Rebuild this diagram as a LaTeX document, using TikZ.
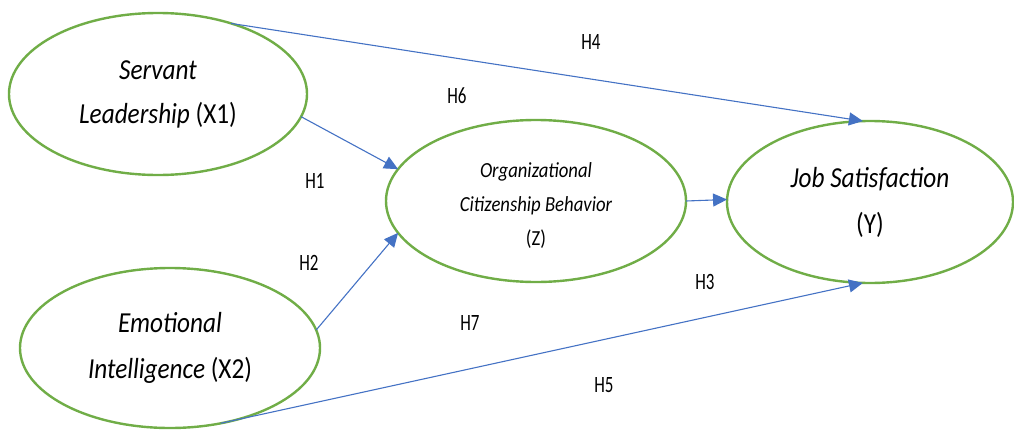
\documentclass[tikz,border=0pt]{standalone}
\usepackage{fontspec}
\setmainfont[FakeStretch=0.87]{Carlito}
\usetikzlibrary{shapes.geometric,arrows.meta}
\definecolor{ovalgreen}{HTML}{70AD47}
\definecolor{arrowblue}{HTML}{4472C4}
\tikzset{
  oval/.style={ellipse, draw=ovalgreen, line width=2.4pt, inner sep=0pt, outer sep=0pt, align=center},
  link/.style={draw=arrowblue, line width=1.1pt, -{Triangle[length=14pt,width=13pt]}},
  hlab/.style={inner sep=0pt, font=\fontsize{19.5}{19.5}\selectfont}
}
\newcommand{\hl}[1]{\scalebox{1}[1.2]{#1}}
\begin{document}
\begin{tikzpicture}[x=1pt,y=-1pt]
\useasboundingbox (0,0) rectangle (1014,431);
\node[oval, minimum width=298pt, minimum height=162pt, font=\fontsize{29}{44}\selectfont] (X1) at (158,94) {\itshape Servant\\\itshape Leadership \upshape(X1)};
\node[oval, minimum width=300pt, minimum height=160pt, font=\fontsize{29}{46}\selectfont] (X2) at (170,348) {\itshape Emotional\\\itshape Intelligence \upshape(X2)};
\node[oval, minimum width=300pt, minimum height=162pt] (Z) at (536,201) {};
\node[inner sep=0pt, align=center, font=\fontsize{21.5}{34}\selectfont] (Ztext) at (536,206) {\itshape Organizational\\\itshape Citizenship Behavior\\\upshape(Z)};
\node[oval, minimum width=286pt, minimum height=162pt, font=\fontsize{29}{46}\selectfont] (Y) at (870,202) {\itshape Job Satisfaction\\\upshape(Y)};
\draw[link] (X1.44.6) -- (Y.95);
\draw[link] (X1.-9) -- (Z.167.6);
\draw[link] (X2.7.8) -- (Z.193.7);
\draw[link] (Z.-0.5) -- (Y.179);
\draw[link] (X2.-56.6) -- (Y.-95);
\node[hlab] (h4) at (591,42) {\hl{H4}};
\node[hlab] (h6) at (457,96) {\hl{H6}};
\node[hlab] (h1) at (315,181) {\hl{H1}};
\node[hlab] (h2) at (309,263) {\hl{H2}};
\node[hlab] (h3) at (705,282) {\hl{H3}};
\node[hlab] (h7) at (470,323) {\hl{H7}};
\node[hlab] (h5) at (604,385) {\hl{H5}};
\end{tikzpicture}
\end{document}
